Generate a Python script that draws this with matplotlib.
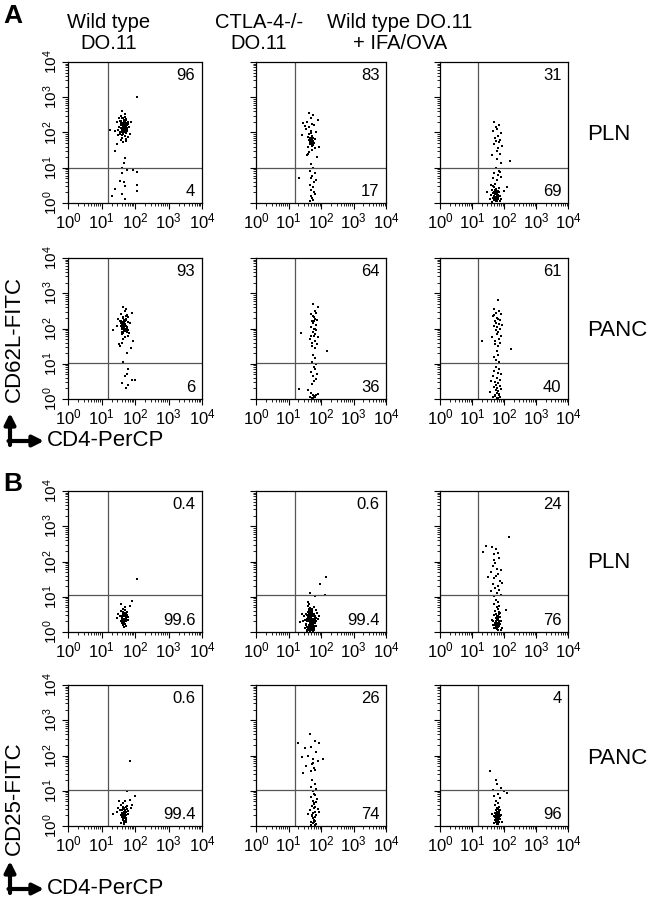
import matplotlib
matplotlib.use("Agg")
import matplotlib.pyplot as plt
import numpy as np
from matplotlib.ticker import LogLocator, LogFormatterSciNotation, NullFormatter

plt.rcParams['font.family'] = ['Liberation Sans', 'DejaVu Sans']
plt.rcParams['mathtext.fontset'] = 'custom'
plt.rcParams['mathtext.rm'] = 'Liberation Sans'
plt.rcParams['mathtext.it'] = 'Liberation Sans'
plt.rcParams['mathtext.bf'] = 'Liberation Sans:bold'

# column / row names
col_titles = ["Wild type\nDO.11", "CTLA-4-/-\nDO.11", "Wild type DO.11\n+ IFA/OVA"]
row_tissues = ["PLN", "PANC", "PLN", "PANC"]

# quadrant percentages (upper right, lower right), rows x columns
upper_pct = [["96", "83", "31"], ["93", "64", "61"],
             ["0.4", "0.6", "24"], ["0.6", "26", "4"]]
lower_pct = [["4", "17", "69"], ["6", "36", "40"],
             ["99.6", "99.4", "76"], ["99.4", "74", "96"]]

# gate positions (log10 units)
gate_x = 1.2
gate_y = [1.0, 1.02, 1.05, 1.03]

# events, in log10 units (CD4 on x, FITC marker on y)
# A / PLN / wild type
a_pln_wt_lx = [1.45, 1.52, 1.58, 1.62, 1.66, 1.70, 1.75, 1.80, 1.55, 1.60, 1.64, 1.68, 1.72, 1.78, 1.50, 1.57,
               1.63, 1.69, 1.74, 1.83, 1.48, 1.56, 1.61, 1.67, 1.71, 1.77, 1.59, 1.65, 1.73, 1.62, 1.54, 1.70,
               1.66, 1.58, 1.76, 1.64, 1.69, 1.60, 1.72, 1.52, 1.85, 1.40, 1.47, 1.88, 1.63, 1.57, 1.74, 1.67,
               2.05, 1.25, 1.40, 1.70, 1.67, 1.60, 1.75, 1.93, 2.05, 1.60, 1.55, 1.67, 2.05, 1.40, 1.70, 2.05,
               1.32, 1.70, 1.60,
               1.60, 1.63, 1.66, 1.69, 1.72, 1.62, 1.65, 1.68, 1.71, 1.74, 1.61, 1.64, 1.67, 1.70, 1.73, 1.59,
               1.66, 1.69, 1.72, 1.63, 1.68, 1.75, 1.57, 1.65, 1.71, 1.78, 1.62, 1.67, 1.70, 1.64]
a_pln_wt_ly = [2.30, 2.15, 2.22, 2.05, 2.35, 2.18, 2.10, 2.25, 1.95, 2.40, 2.12, 2.00, 2.28, 1.88, 2.08, 1.80,
               2.20, 2.45, 1.98, 2.15, 1.92, 2.33, 1.85, 2.17, 2.52, 2.03, 2.12, 1.72, 2.38, 2.27, 2.02, 1.90,
               2.10, 2.48, 2.22, 1.96, 2.32, 2.60, 1.75, 2.40, 1.97, 2.05, 1.68, 2.30, 2.14, 2.24, 1.82, 2.07,
               3.00, 2.08, 1.48, 1.29, 1.14, 1.00, 0.95, 0.93, 0.89, 0.84, 0.62, 0.59, 0.50, 0.41, 0.48, 0.35,
               0.19, 0.11, 0.26,
               2.20, 2.25, 2.15, 2.30, 2.18, 2.10, 2.28, 2.22, 2.05, 2.35, 2.00, 2.12, 2.26, 2.16, 2.08, 2.32,
               2.02, 2.24, 2.38, 2.19, 2.11, 2.14, 2.27, 1.98, 2.21, 2.29, 1.94, 2.33, 2.09, 2.42]
# A / PLN / CTLA-4-/-
a_pln_ko_lx = [1.55, 1.62, 1.68, 1.72, 1.78, 1.85, 1.60, 1.65, 1.70, 1.75, 1.58, 1.66, 1.73, 1.80, 1.50, 1.63,
               1.69, 1.76, 1.90, 1.45, 1.67, 1.71, 1.64, 1.59, 1.82, 1.74, 1.61, 1.69, 1.66, 1.72, 1.77, 1.56,
               1.68, 1.63, 1.70, 1.93, 1.42, 1.87, 1.65, 1.75,
               1.66, 1.70, 1.68, 1.72, 1.64, 1.69, 1.71, 1.67, 1.73, 1.65,
               1.70, 1.75, 1.65, 1.80, 1.72, 1.68, 1.85, 1.78, 1.66, 1.74, 1.31, 1.70, 1.77, 1.82, 1.69, 1.73,
               1.76, 1.67]
a_pln_ko_ly = [2.10, 1.95, 1.80, 2.25, 1.70, 2.00, 1.60, 1.85, 2.40, 1.75, 2.30, 1.72, 1.90, 1.55, 2.18, 1.45,
               2.05, 1.65, 2.35, 2.28, 1.78, 1.50, 2.15, 1.88, 1.82, 2.50, 1.40, 1.98, 1.74, 1.62, 2.20, 1.35,
               1.76, 2.55, 1.68, 1.58, 1.92, 1.30, 1.77, 1.83,
               1.75, 1.72, 1.80, 1.70, 1.78, 1.85, 1.66, 1.74, 1.82, 1.68,
               1.12, 0.98, 0.92, 0.85, 0.78, 0.70, 0.66, 0.60, 0.52, 0.45, 0.71, 0.38, 0.30, 0.25, 0.20, 0.14,
               0.08, 0.05]
# A / PLN / IFA-OVA
a_pln_ova_lx = [1.70, 1.85, 1.78, 1.65, 1.92, 1.80, 1.72, 1.88, 1.75, 1.68, 1.95, 1.82, 1.77, 1.86, 1.63, 1.79,
                2.19, 1.90, 1.74, 1.83,
                1.75, 1.85, 1.70, 1.80, 1.90, 1.65, 1.78, 1.88,
                1.60, 1.70, 1.75, 1.80, 1.85, 1.65, 1.72, 1.78, 1.68, 1.74, 1.82, 1.90, 1.55, 1.62, 1.77, 1.86,
                1.70, 1.73, 1.79, 1.66, 1.76, 1.84, 2.00, 1.58, 1.71, 1.81, 1.46, 1.69, 1.75, 1.88, 1.64, 1.78,
                2.10, 1.72, 1.80, 1.67,
                1.70, 1.74, 1.78, 1.72, 1.76, 1.80, 1.68, 1.73, 1.77, 1.71, 1.75, 1.79, 1.69, 1.74, 1.78]
a_pln_ova_ly = [2.29, 2.20, 2.10, 2.05, 1.98, 1.90, 1.85, 1.80, 1.75, 1.68, 1.62, 1.55, 1.48, 1.40, 1.35, 1.25,
                1.18, 1.14, 2.15, 1.72,
                0.98, 0.92, 0.85, 0.80, 0.75, 0.70, 0.65, 0.88,
                0.50, 0.45, 0.40, 0.35, 0.30, 0.28, 0.25, 0.22, 0.20, 0.18, 0.15, 0.12, 0.10, 0.38, 0.08, 0.05,
                0.32, 0.12, 0.28, 0.15, 0.06, 0.42, 0.35, 0.22, 0.55, 0.18, 0.30, 0.08, 0.26, 0.20, 0.04, 0.14,
                0.45, 0.36, 0.10, 0.48,
                0.20, 0.25, 0.15, 0.30, 0.10, 0.22, 0.28, 0.12, 0.35, 0.18, 0.08, 0.26, 0.14, 0.32, 0.06]
# A / PANC / wild type
a_panc_wt_lx = [1.55, 1.62, 1.68, 1.72, 1.78, 1.85, 1.60, 1.65, 1.70, 1.75, 1.58, 1.66, 1.73, 1.80, 1.50, 1.63,
                1.69, 1.76, 1.90, 1.45, 1.67, 1.71, 1.64, 1.59, 1.82, 1.74, 1.61, 1.69, 1.66, 1.72, 1.77, 1.56,
                1.68, 1.63, 1.70, 1.93, 1.35, 1.87, 1.65, 1.75, 1.52, 1.80,
                1.60, 1.63, 1.66, 1.69, 1.72, 1.62, 1.65, 1.68, 1.71, 1.74, 1.61, 1.64, 1.67, 1.70, 1.73, 1.59,
                1.66, 1.69, 1.72, 1.63, 1.68, 1.75, 1.57, 1.65, 1.71, 1.78, 1.62, 1.67, 1.70, 1.64,
                1.65, 1.80, 1.75, 1.70, 1.90, 2.00, 1.60, 1.80, 1.73]
a_panc_wt_ly = [2.20, 2.05, 2.10, 2.35, 1.95, 2.15, 1.85, 2.00, 2.50, 1.98, 2.40, 2.02, 2.25, 1.80, 2.28, 1.70,
                2.12, 1.90, 2.45, 2.08, 2.18, 1.75, 2.30, 2.06, 1.88, 2.55, 1.60, 2.22, 2.04, 1.92, 2.38, 1.50,
                2.03, 2.60, 1.96, 1.65, 1.95, 1.45, 2.14, 1.30, 1.55, 2.32,
                2.10, 2.15, 2.05, 2.20, 2.08, 2.00, 2.18, 2.12, 1.95, 2.25, 1.90, 2.02, 2.16, 2.06, 1.98, 2.22,
                1.92, 2.14, 2.28, 2.09, 2.01, 2.04, 2.17, 1.88, 2.11, 2.19, 1.84, 2.23, 1.99, 2.32,
                1.05, 0.84, 0.70, 0.64, 0.55, 0.55, 0.44, 0.39, 0.31]
# A / PANC / CTLA-4-/-
a_panc_ko_lx = [1.75, 1.80, 1.85, 1.70, 1.78, 1.82, 1.88, 1.72, 1.76, 1.84, 1.68, 1.79, 1.86, 1.74, 1.81, 1.77,
                1.90, 1.65, 1.83, 1.73, 1.87, 1.71, 1.80, 1.76, 1.92, 1.39, 2.17, 1.78, 1.82, 1.69,
                1.75, 1.80, 1.72, 1.85, 1.78, 1.82, 1.70, 1.88, 1.76, 1.84, 1.79, 1.73, 1.31, 1.60, 1.68, 1.74,
                1.78, 1.82, 1.76, 1.80, 1.72, 1.86, 1.66, 1.90]
a_panc_ko_ly = [2.70, 2.50, 2.45, 2.40, 2.32, 2.28, 2.25, 2.20, 2.15, 2.10, 2.05, 2.00, 1.95, 1.90, 1.85, 1.80,
                1.75, 1.70, 1.65, 1.60, 1.55, 1.50, 1.45, 2.35, 2.60, 1.88, 1.37, 2.22, 1.98, 1.78,
                1.25, 1.15, 1.05, 1.00, 0.92, 0.85, 0.78, 0.72, 0.65, 0.58, 0.50, 0.42, 0.28, 0.25, 0.18, 0.12,
                0.08, 0.05, 0.04, 0.06, 0.03, 0.10, 0.06, 0.15]
# A / PANC / IFA-OVA
a_panc_ova_lx = [1.80, 1.70, 1.85, 1.75, 1.90, 1.65, 1.78, 1.82, 1.88, 1.72, 1.76, 1.84, 1.68, 1.79, 1.86, 1.74,
                 1.81, 1.77, 1.92, 1.63, 1.83, 1.73, 1.87, 1.71, 1.80, 1.95, 1.31, 2.22, 1.78, 1.82, 1.69, 1.75,
                 1.85, 1.70,
                 1.75, 1.85, 1.70, 1.80, 1.90, 1.65, 1.78, 1.88, 1.60, 1.72, 1.82, 1.76, 1.86, 1.68, 1.79, 1.92,
                 1.74, 1.81, 1.57, 1.77, 1.84, 1.71, 1.83, 1.73, 1.87, 1.80, 1.66, 1.78]
a_panc_ova_ly = [2.80, 2.55, 2.50, 2.45, 2.40, 2.35, 2.30, 2.28, 2.25, 2.20, 2.15, 2.12, 2.08, 2.05, 2.00, 1.95,
                 1.90, 1.85, 1.80, 1.75, 1.70, 1.65, 1.60, 1.55, 1.50, 2.10, 1.64, 1.43, 1.35, 1.25, 1.18, 1.10,
                 1.05, 2.38,
                 0.92, 0.85, 0.80, 0.75, 0.70, 0.65, 0.60, 0.55, 0.50, 0.48, 0.45, 0.40, 0.38, 0.35, 0.30, 0.28,
                 0.25, 0.22, 0.20, 0.18, 0.15, 0.12, 0.10, 0.08, 0.06, 0.04, 0.05, 0.03]
# B / PLN / wild type
b_pln_wt_lx = [1.55, 1.62, 1.68, 1.72, 1.78, 1.60, 1.65, 1.70, 1.75, 1.58, 1.66, 1.73, 1.80, 1.50, 1.63, 1.69,
               1.76, 1.67, 1.71, 1.64, 1.59, 1.74, 1.61, 1.69, 1.66, 1.72, 1.85, 1.45, 1.68, 1.63, 1.70, 2.05,
               1.92, 1.57,
               1.62, 1.66, 1.70, 1.64, 1.68, 1.72, 1.60, 1.65, 1.69, 1.74, 1.63, 1.67, 1.71, 1.66, 1.70, 1.61,
               1.68, 1.73, 1.65, 1.69]
b_pln_wt_ly = [0.45, 0.38, 0.50, 0.30, 0.42, 0.25, 0.55, 0.35, 0.48, 0.60, 0.28, 0.40, 0.33, 0.52, 0.20, 0.44,
               0.58, 0.36, 0.22, 0.65, 0.32, 0.18, 0.46, 0.70, 0.26, 0.54, 0.75, 0.40, 0.15, 0.30, 0.62, 1.49,
               0.88, 0.80,
               0.40, 0.45, 0.35, 0.30, 0.50, 0.42, 0.38, 0.28, 0.55, 0.33, 0.48, 0.25, 0.44, 0.36, 0.52, 0.46,
               0.32, 0.40, 0.58, 0.22]
# B / PLN / CTLA-4-/-
b_pln_ko_lx = [1.55, 1.60, 1.65, 1.70, 1.75, 1.80, 1.58, 1.62, 1.68, 1.72, 1.78, 1.85, 1.52, 1.63, 1.67, 1.73,
               1.77, 1.82, 1.57, 1.64, 1.69, 1.74, 1.79, 1.48, 1.61, 1.66, 1.71, 1.76, 1.88, 1.54, 1.59, 1.67,
               1.70, 1.81, 1.45, 1.63, 1.75, 1.92, 1.40, 1.68, 1.73, 1.56, 1.65, 1.78, 1.62, 1.70, 1.60, 1.86,
               1.50, 1.66, 1.72, 1.84, 1.58, 1.74, 1.64, 1.69, 1.77, 1.95, 1.35, 1.61,
               1.60, 1.64, 1.68, 1.72, 1.76, 1.80, 1.62, 1.66, 1.70, 1.74, 1.78, 1.58, 1.63, 1.67, 1.71, 1.75,
               1.79, 1.84, 1.61, 1.65, 1.69, 1.73, 1.77, 1.55, 1.59, 1.64, 1.68, 1.72, 1.76, 1.82, 1.57, 1.62,
               1.66, 1.70, 1.74, 1.78, 1.53, 1.60, 1.67, 1.71, 1.75, 1.65, 1.69, 1.73, 1.63, 1.77, 1.81, 1.58,
               1.68, 1.72,
               2.15, 1.97, 1.65, 2.12, 1.80]
b_pln_ko_ly = [0.50, 0.42, 0.55, 0.38, 0.48, 0.35, 0.30, 0.60, 0.45, 0.25, 0.52, 0.40, 0.33, 0.65, 0.20, 0.58,
               0.28, 0.46, 0.15, 0.36, 0.62, 0.18, 0.70, 0.44, 0.10, 0.32, 0.50, 0.12, 0.55, 0.22, 0.74, 0.40,
               0.08, 0.25, 0.30, 0.80, 0.35, 0.38, 0.52, 0.14, 0.64, 0.05, 0.26, 0.06, 0.46, 0.56, 0.38, 0.18,
               0.12, 0.68, 0.30, 0.62, 0.04, 0.44, 0.20, 0.34, 0.72, 0.45, 0.28, 0.85,
               0.30, 0.34, 0.40, 0.28, 0.36, 0.42, 0.50, 0.22, 0.46, 0.32, 0.26, 0.38, 0.16, 0.54, 0.20, 0.44,
               0.12, 0.30, 0.58, 0.10, 0.26, 0.48, 0.52, 0.24, 0.42, 0.08, 0.34, 0.60, 0.18, 0.40, 0.14, 0.36,
               0.44, 0.22, 0.04, 0.28, 0.20, 0.06, 0.48, 0.14, 0.24, 0.02, 0.38, 0.52, 0.46, 0.10, 0.16, 0.48,
               0.56, 0.06,
               1.56, 1.35, 1.11, 1.06, 1.03]
# B / PLN / IFA-OVA
b_pln_ova_lx = [2.15, 1.45, 1.35, 1.62, 1.75, 1.70, 1.80, 1.68, 1.85, 1.72, 1.65, 1.78, 1.90, 1.60, 1.82, 1.75,
                1.70, 1.88, 1.50, 1.95, 1.66, 1.80, 1.73, 1.85, 1.58, 1.77, 1.92, 1.68,
                1.75, 1.80, 1.70, 1.85, 1.78, 1.82, 1.72, 1.88, 1.76, 1.84, 1.68, 1.79, 1.86, 1.74, 1.81, 1.77,
                1.90, 1.65, 1.83, 1.73, 1.87, 1.71, 1.80, 1.76, 1.95, 1.69, 1.78, 1.82, 2.05, 1.64, 1.75, 1.85,
                1.72, 1.80, 1.77, 1.90, 1.67, 1.83,
                1.76, 1.80, 1.78, 1.82, 1.74, 1.79, 1.81, 1.77, 1.83, 1.80, 1.75, 1.85, 1.78, 1.82, 1.79]
b_pln_ova_ly = [2.70, 2.45, 2.28, 2.40, 2.35, 2.20, 2.25, 2.05, 2.10, 1.95, 1.88, 1.80, 1.75, 1.70, 1.65, 1.58,
                1.52, 1.45, 1.55, 1.40, 1.35, 1.30, 1.25, 1.20, 1.15, 1.10, 1.05, 1.02,
                0.92, 0.85, 0.80, 0.75, 0.70, 0.65, 0.60, 0.55, 0.52, 0.50, 0.48, 0.45, 0.42, 0.40, 0.38, 0.35,
                0.32, 0.30, 0.28, 0.25, 0.22, 0.20, 0.18, 0.15, 0.12, 0.10, 0.08, 0.05, 0.62, 0.35, 0.28, 0.18,
                0.12, 0.42, 0.24, 0.06, 0.20, 0.58,
                0.30, 0.25, 0.35, 0.20, 0.28, 0.40, 0.15, 0.22, 0.32, 0.45, 0.18, 0.26, 0.12, 0.36, 0.08]
# B / PANC / wild type
b_panc_wt_lx = [1.55, 1.62, 1.68, 1.72, 1.78, 1.60, 1.65, 1.70, 1.75, 1.58, 1.66, 1.73, 1.80, 1.50, 1.63, 1.69,
                1.76, 1.67, 1.71, 1.64, 1.59, 1.74, 1.61, 1.69, 1.66, 1.72, 1.85, 1.45, 1.68, 1.63, 1.70, 1.35,
                1.92, 1.57, 1.84, 2.00, 1.76, 1.52, 1.66, 1.88,
                1.62, 1.66, 1.70, 1.64, 1.68, 1.72, 1.60, 1.65, 1.69, 1.74, 1.63, 1.67, 1.71, 1.66, 1.70, 1.61,
                1.68, 1.73, 1.65, 1.69]
b_panc_wt_ly = [0.45, 0.38, 0.50, 0.30, 0.42, 0.25, 0.55, 0.35, 0.48, 0.60, 0.28, 0.40, 0.33, 0.52, 0.20, 0.44,
                0.58, 0.15, 0.22, 0.65, 0.32, 0.18, 0.46, 0.70, 0.10, 0.54, 0.75, 0.40, 0.06, 0.30, 0.12, 0.35,
                0.60, 0.08, 1.83, 0.85, 0.99, 0.72, 0.05, 0.50,
                0.30, 0.35, 0.25, 0.20, 0.40, 0.32, 0.28, 0.18, 0.45, 0.23, 0.38, 0.15, 0.34, 0.26, 0.42, 0.36,
                0.22, 0.12, 0.48, 0.10]
# B / PANC / CTLA-4-/-
b_panc_ko_lx = [1.30, 1.65, 1.80, 1.95, 1.50, 1.70, 1.85, 1.40, 1.75, 1.60, 1.90, 1.72, 1.55, 1.78, 2.05, 1.68,
                1.82, 1.45, 1.75,
                1.72, 1.80, 1.68, 1.85, 1.75, 1.78, 1.82, 1.70, 1.88, 1.76, 1.84, 1.79, 1.73, 1.81, 1.77, 1.90,
                1.66, 1.83, 1.74, 1.86, 1.71, 1.80, 1.76, 1.60, 1.78, 1.82, 1.69, 1.75, 1.85, 1.70, 1.79, 1.73,
                1.95, 1.77, 1.81]
b_panc_ko_ly = [2.35, 2.60, 2.40, 2.35, 2.20, 2.25, 2.10, 1.95, 1.90, 2.00, 1.85, 1.75, 1.70, 1.65, 1.90, 1.55,
                1.60, 1.50, 1.80,
                1.30, 1.20, 1.12, 1.05, 0.98, 0.92, 0.88, 0.82, 0.78, 0.72, 0.68, 0.62, 0.58, 0.55, 0.50, 0.48,
                0.45, 0.40, 0.36, 0.32, 0.30, 0.26, 0.22, 0.35, 0.18, 0.15, 0.12, 0.08, 0.06, 0.04, 0.10, 0.28,
                0.40, 0.64, 0.02]
# B / PANC / IFA-OVA
b_panc_ova_lx = [1.57, 1.75, 1.78, 1.65, 1.90, 2.00, 1.82, 1.70, 1.86, 2.10, 1.74, 1.80, 1.72, 1.85, 1.78, 1.82,
                 1.76, 1.84, 1.79, 1.73, 1.81, 1.77, 1.90, 1.68, 1.83, 1.74, 1.86, 1.71, 1.80, 1.76, 1.95, 1.69,
                 1.78, 1.82, 1.75, 1.85, 1.72, 1.80, 1.77, 1.62, 1.88, 1.79, 1.81,
                 1.78, 1.82, 1.80, 1.76, 1.84, 1.79, 1.81, 1.77, 1.83, 1.80, 1.75, 1.85, 1.78, 1.82, 1.79, 1.81,
                 1.86, 1.74, 1.80, 1.83]
b_panc_ova_ly = [1.55, 1.30, 1.20, 1.02, 1.08, 0.98, 0.90, 0.85, 0.80, 0.95, 0.70, 0.65, 0.60, 0.55, 0.50, 0.48,
                 0.45, 0.42, 0.40, 0.38, 0.35, 0.32, 0.30, 0.28, 0.25, 0.22, 0.20, 0.18, 0.15, 0.12, 0.10, 0.08,
                 0.06, 0.05, 0.30, 0.40, 0.25, 0.20, 0.15, 0.35, 0.45, 0.10, 0.28,
                 0.30, 0.28, 0.25, 0.32, 0.22, 0.35, 0.20, 0.26, 0.30, 0.38, 0.24, 0.33, 0.18, 0.40, 0.15, 0.29,
                 0.27, 0.34, 0.21, 0.12]

events = [
    [(a_pln_wt_lx, a_pln_wt_ly), (a_pln_ko_lx, a_pln_ko_ly), (a_pln_ova_lx, a_pln_ova_ly)],
    [(a_panc_wt_lx, a_panc_wt_ly), (a_panc_ko_lx, a_panc_ko_ly), (a_panc_ova_lx, a_panc_ova_ly)],
    [(b_pln_wt_lx, b_pln_wt_ly), (b_pln_ko_lx, b_pln_ko_ly), (b_pln_ova_lx, b_pln_ova_ly)],
    [(b_panc_wt_lx, b_panc_wt_ly), (b_panc_ko_lx, b_panc_ko_ly), (b_panc_ova_lx, b_panc_ova_ly)],
]

W, H = 649, 900
fig = plt.figure(figsize=(W / 100, H / 100), dpi=100)

col_left = [68, 256, 440]
col_width = [134, 130, 128]
row_top = [62, 258, 491, 685]
row_height = 141


def draw_panel(ax, lx, ly, gy, up, low, ylabels):
    ax.set_xscale('log')
    ax.set_yscale('log')
    ax.set_xlim(1, 1e4)
    ax.set_ylim(1, 1e4)
    ax.scatter(np.power(10.0, lx), np.power(10.0, ly), s=2.6, marker='s',
               color='black', linewidths=0)
    ax.axvline(10 ** gate_x, color='#555555', lw=0.9)
    ax.axhline(10 ** gy, color='#555555', lw=0.9)
    for axis in (ax.xaxis, ax.yaxis):
        axis.set_major_locator(LogLocator(base=10, numticks=6))
        axis.set_minor_locator(LogLocator(base=10, subs=np.arange(2, 10), numticks=10))
        axis.set_minor_formatter(NullFormatter())
    ax.xaxis.set_major_formatter(LogFormatterSciNotation())
    ax.tick_params(which='major', direction='out', length=4, width=0.8, labelsize=12, pad=2)
    ax.tick_params(which='minor', direction='out', length=2, width=0.6)
    if ylabels:
        ax.yaxis.set_major_formatter(LogFormatterSciNotation())
        ax.tick_params(axis='y', labelrotation=90, labelsize=11)
        for lab in ax.get_yticklabels():
            lab.set_va('center')
    else:
        ax.yaxis.set_major_formatter(NullFormatter())
    for sp in ax.spines.values():
        sp.set_linewidth(0.9)
    ax.text(0.95, 0.905, up, transform=ax.transAxes, ha='right', va='center', fontsize=12)
    ax.text(0.95, 0.085, low, transform=ax.transAxes, ha='right', va='center', fontsize=12)


for r in range(4):
    for c in range(3):
        left = col_left[c] / W
        bottom = 1 - (row_top[r] + row_height) / H
        ax = fig.add_axes([left, bottom, col_width[c] / W, row_height / H])
        lx, ly = events[r][c]
        draw_panel(ax, lx, ly, gate_y[r], upper_pct[r][c], lower_pct[r][c], c == 0)

# overlay in pixel units for the labels and arrows
ov = fig.add_axes([0, 0, 1, 1], zorder=-1)
ov.set_xlim(0, W)
ov.set_ylim(H, 0)
ov.axis('off')

ov.text(3, 4, "A", fontsize=19, fontweight='bold', ha='left', va='top')
ov.text(3, 472, "B", fontsize=19, fontweight='bold', ha='left', va='top')

title_x = [109, 259, 400]
for c in range(3):
    ov.text(title_x[c], 33, col_titles[c], fontsize=14.5, ha='center', va='center', linespacing=1.15)

tissue_y = [135, 330, 563, 758]
for r in range(4):
    ov.text(587, tissue_y[r], row_tissues[r], fontsize=16, ha='left', va='center')

ov.text(14, 339, "CD62L-FITC", fontsize=16, rotation=90, ha='center', va='center')
ov.text(14, 798, "CD25-FITC", fontsize=16, rotation=90, ha='center', va='center')

for ybase in [441, 889]:
    ov.annotate('', xy=(10, ybase - 28), xytext=(10, ybase + 4),
                arrowprops=dict(arrowstyle='-|>', lw=3, color='black', mutation_scale=16,
                                shrinkA=0, shrinkB=0))
    ov.annotate('', xy=(44, ybase), xytext=(8.5, ybase),
                arrowprops=dict(arrowstyle='-|>', lw=3, color='black', mutation_scale=16,
                                shrinkA=0, shrinkB=0))
    ov.text(47, ybase, "CD4-PerCP", fontsize=16, ha='left', va='center')

fig.savefig("out.png", dpi=100)
